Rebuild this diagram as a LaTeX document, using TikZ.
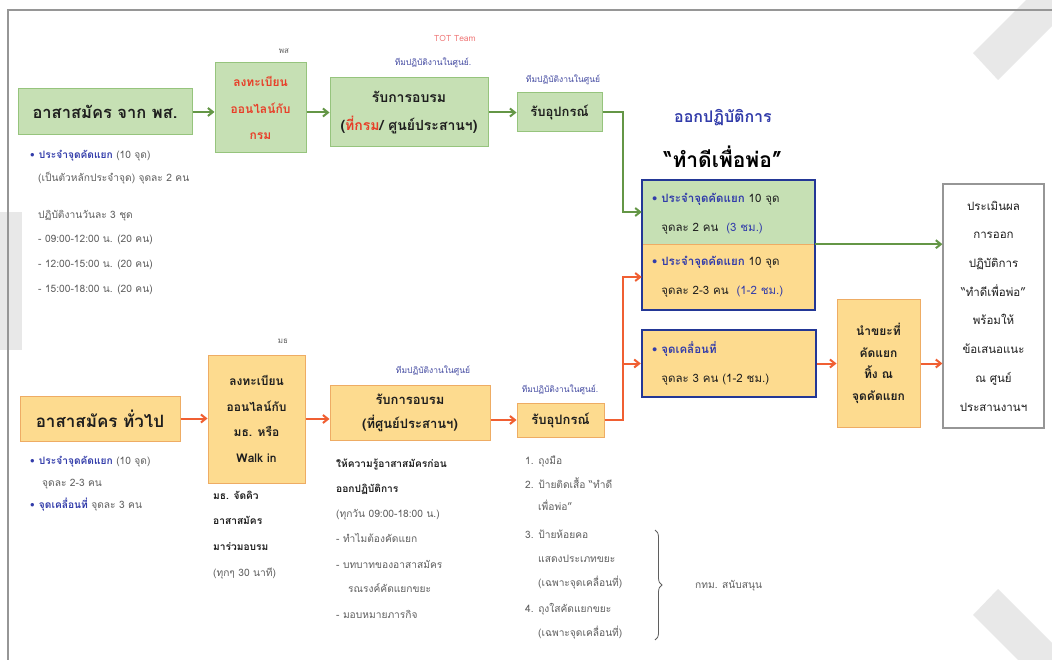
\documentclass[tikz,border=0pt]{standalone}
\usepackage{fontspec}
\setmainfont[Script=Thai]{Loma}
\usetikzlibrary{arrows.meta,decorations.pathreplacing}
\definecolor{gfill}{RGB}{198,224,180}
\definecolor{gborder}{RGB}{150,196,125}
\definecolor{yfill}{RGB}{253,219,143}
\definecolor{yborder}{RGB}{238,172,100}
\definecolor{bborder}{RGB}{35,55,150}
\definecolor{garrow}{RGB}{100,150,70}
\definecolor{oarrow}{RGB}{240,95,50}
\definecolor{tblue}{RGB}{50,60,170}
\definecolor{tgray}{RGB}{95,95,95}
\definecolor{tdark}{RGB}{30,30,30}
\definecolor{tred}{RGB}{232,62,40}
\definecolor{tpink}{RGB}{240,120,120}
\definecolor{frame}{RGB}{150,150,150}
\definecolor{stripe}{RGB}{232,232,232}
\begin{document}
\begin{tikzpicture}[x=1pt,y=-1pt,
  gbox/.style={draw=gborder,fill=gfill,line width=1pt,inner sep=0pt,align=center,text=tdark},
  ybox/.style={draw=yborder,fill=yfill,line width=1pt,inner sep=0pt,align=center,text=tdark},
  garr/.style={draw=garrow,line width=2pt,-{Straight Barb[length=5pt,width=8pt]}},
  oarr/.style={draw=oarrow,line width=2pt,-{Straight Barb[length=5pt,width=8pt]}},
  note/.style={anchor=west,inner sep=0pt,text=tgray,font=\fontsize{10.2}{12}\selectfont,text height=7pt,text depth=3pt},
  bnote/.style={note,text=tdark,font=\bfseries\fontsize{10.2}{12}\selectfont},
  lab/.style={inner sep=0pt,text=tblue!80!gray,font=\fontsize{8.5}{10}\selectfont},
  slab/.style={inner sep=0pt,text=tgray,font=\fontsize{8}{10}\selectfont},
  inbox/.style={inner sep=0pt,align=left,text=tdark,font=\fontsize{11.5}{29}\selectfont}
]
\useasboundingbox (0,0) rectangle (1052,660);
\fill[white] (0,0) rectangle (1052,660);
% page decoration
\fill[stripe] (0,212) rectangle (22,350);
\fill[stripe] (973,53) -- (1026,0) -- (1052,0) -- (1052,26) -- (998,80) -- cycle;
\fill[stripe] (998,589) -- (1052,643) -- (1052,660) -- (1018,660) -- (973,615) -- cycle;
\draw[frame,line width=1.5pt] (8,660) -- (8,10) -- (1052,10);

% top row
\node[gbox,minimum width=174pt,minimum height=46pt,font=\bfseries\fontsize{16.5}{20}\selectfont] (a1) at (105,112) {อาสาสมัคร จาก พส.};
\node[gbox,minimum width=91pt,minimum height=90pt,text=tred,font=\bfseries\fontsize{12}{26.5}\selectfont] (a2) at (260.5,108) {ลงทะเบียน\\ออนไลน์กับ\\กรม};
\node[slab] (a2l) at (284,51) {พส};
\node[gbox,minimum width=158pt,minimum height=69pt,font=\bfseries\fontsize{14}{28}\selectfont] (a3) at (409,112.5) {รับการอบรม\\(\textcolor{tred}{ที่กรม}/ ศูนย์ประสานฯ)};
\node[inner sep=0pt,text=tpink,font=\fontsize{8.5}{10}\selectfont] (tot) at (455,38) {TOT Team};
\node[lab] (a3l) at (433,63) {ทีมปฏิบัติงานในศูนย์.};
\node[gbox,minimum width=85pt,minimum height=39pt,font=\bfseries\fontsize{13}{16}\selectfont] (a4) at (559.5,112.5) {รับอุปกรณ์};
\node[lab] (a4l) at (563,80) {ทีมปฏิบัติงานในศูนย์};

\draw[garr] (a1.east) -- (a1.east -| a2.west);
\draw[garr] (a3.west -| a2.east) -- (a3.west);
\draw[garr] (a3.east) -- (a4.west);

% notes under a1
\node[note] (n1) at (30,157) {\textcolor{tblue}{•}\hspace{4pt}\textcolor{tblue}{\bfseries ประจำจุดคัดแยก} (10 จุด)};
\node[note] (n2) at (38,180) {(เป็นตัวหลักประจำจุด) จุดละ 2 คน};
\node[note] (n3) at (38,217) {ปฏิบัติงานวันละ 3 ชุด};
\node[note] (n4) at (38,241) {- 09:00-12:00 น. (20 คน)};
\node[note] (n5) at (38,266) {- 12:00-15:00 น. (20 คน)};
\node[note] (n6) at (38,291) {- 15:00-18:00 น. (20 คน)};

% title
\node[inner sep=0pt,text=tblue,font=\bfseries\fontsize{16}{18}\selectfont] (t1) at (723,118) {ออกปฏิบัติการ};
\node[inner sep=0pt,text=black,font=\bfseries\fontsize{21}{24}\selectfont] (t2) at (723,157) {“ทำดีเพื่อพ่อ”};

% operation boxes
\node[fill=gfill,minimum width=173pt,minimum height=64pt,inner sep=0pt] (b1t) at (728.5,212) {};
\node[fill=yfill,minimum width=173pt,minimum height=66pt,inner sep=0pt] (b1b) at (728.5,277) {};
\draw[yborder,line width=1pt] (b1t.south west) -- (b1t.south east);
\draw[bborder,line width=2.5pt] (b1t.north west) rectangle (b1b.south east);
\node[inbox,anchor=west] (b1tt) at (652,214) {\textcolor{tblue}{• \bfseries ประจำจุดคัดแยก} 10 จุด\\\phantom{• }จุดละ 2 คน \ \textcolor{tblue}{(3 ชม.)}};
\node[inbox,anchor=west] (b1bt) at (652,277) {\textcolor{tblue}{• \bfseries ประจำจุดคัดแยก} 10 จุด\\\phantom{• }จุดละ 2-3 คน \ \textcolor{tblue}{(1-2 ชม.)}};
\node[fill=yfill,draw=bborder,line width=2.5pt,minimum width=174pt,minimum height=67pt,inner sep=0pt] (b2) at (729,363.5) {};
\node[inbox,anchor=west] (b2t) at (652,364) {\textcolor{tblue}{• \bfseries จุดเคลื่อนที่}\\\phantom{• }จุดละ 3 คน (1-2 ชม.)};

\node[ybox,minimum width=83pt,minimum height=127pt,font=\bfseries\fontsize{12}{21.7}\selectfont] (c) at (878.5,363.5) {นำขยะที่\\คัดแยก\\ทิ้ง ณ\\จุดคัดแยก};
\node[draw=frame,fill=white,line width=1.2pt,minimum width=101pt,minimum height=244pt,inner sep=0pt,align=center,text=tdark,font=\fontsize{11.5}{28.7}\selectfont] (e) at (993.5,306) {ประเมินผล\\การออก\\ปฏิบัติการ\\“ทำดีเพื่อพ่อ”\\พร้อมให้\\ข้อเสนอแนะ\\ณ ศูนย์\\ประสานงานฯ};

\coordinate (gx) at (623,0);
\draw[garr] (a4.east) -- (a4.east -| gx) |- (b1t.west);
\draw[garr] (b1t.south east) -- (b1t.south east -| e.west);
\draw[oarr] (b2.east) -- (c.west);
\draw[oarr] (c.east) -- (c.east -| e.west);

% bottom row
\node[ybox,minimum width=160pt,minimum height=45pt,font=\bfseries\fontsize{17}{20}\selectfont] (d1) at (100,418.5) {อาสาสมัคร ทั่วไป};
\node[ybox,minimum width=97pt,minimum height=128pt,font=\bfseries\fontsize{12}{25.7}\selectfont] (d2) at (256.5,419) {ลงทะเบียน\\ออนไลน์กับ\\มธ. หรือ\\Walk in};
\node[slab] (d2l) at (283,341) {มธ};
\node[ybox,minimum width=160pt,minimum height=55pt,font=\bfseries\fontsize{13}{24}\selectfont] (d3) at (410,412.5) {รับการอบรม\\(ที่ศูนย์ประสานฯ)};
\node[lab] (d3l) at (433,371) {ทีมปฏิบัติงานในศูนย์};
\node[ybox,minimum width=87pt,minimum height=34pt,font=\bfseries\fontsize{13}{16}\selectfont] (d4) at (560.5,420) {รับอุปกรณ์};
\node[lab] (d4l) at (560,390) {ทีมปฏิบัติงานในศูนย์.};

\draw[oarr] (d1.east) -- (d1.east -| d2.west);
\draw[oarr] (d2.east) -- (d2.east -| d3.west);
\draw[oarr] (d4.west -| d3.east) -- (d4.west);
\draw[oarr] (d4.east) -| (gx |- b1b.west) -- (b1b.west);
\draw[oarr] (gx |- b2.west) -- (b2.west);

% notes under d1
\node[note] (m1) at (30,462) {\textcolor{tblue}{•}\hspace{4pt}\textcolor{tblue}{\bfseries ประจำจุดคัดแยก} (10 จุด)};
\node[note] (m2) at (42,484) {จุดละ 2-3 คน};
\node[note] (m3) at (30,506) {\textcolor{tblue}{•}\hspace{4pt}\textcolor{tblue}{\bfseries จุดเคลื่อนที่} จุดละ 3 คน};

% notes under d2
\node[bnote] (q1) at (213,497) {มธ. จัดคิว};
\node[bnote] (q2) at (213,522) {อาสาสมัคร};
\node[bnote] (q3) at (213,548) {มาร่วมอบรม};
\node[note] (q4) at (213,574) {(ทุกๆ 30 นาที)};

% notes under d3
\node[bnote] (r1) at (336,465) {ให้ความรู้อาสาสมัครก่อน};
\node[bnote] (r2) at (336,490) {ออกปฏิบัติการ};
\node[note] (r3) at (336,515) {(ทุกวัน 09:00-18:00 น.)};
\node[note] (r4) at (336,540) {- ทำไมต้องคัดแยก};
\node[note] (r5) at (336,566) {- บทบาทของอาสาสมัคร};
\node[note] (r6) at (348,590) {รณรงค์คัดแยกขยะ};
\node[note] (r7) at (336,616) {- มอบหมายภารกิจ};

% notes under d4
\node[note] (s1) at (525,462) {1. ถุงมือ};
\node[note] (s2) at (525,486) {2. ป้ายติดเสื้อ “ทำดี};
\node[note] (s3) at (538,508) {เพื่อพ่อ”};
\node[note] (s4) at (525,536) {3. ป้ายห้อยคอ};
\node[note] (s5) at (538,560) {แสดงประเภทขยะ};
\node[note] (s6) at (538,584) {(เฉพาะจุดเคลื่อนที่)};
\node[note] (s7) at (525,610) {4. ถุงใสคัดแยกขยะ};
\node[note] (s8) at (538,634) {(เฉพาะจุดเคลื่อนที่)};
\coordinate (brtop) at (655,530);
\coordinate (brbot) at (655,640);
\draw[tgray,line width=0.8pt,decorate,decoration={brace,amplitude=7pt}] (brtop) -- (brbot);
\node[note] (sup) at (695,586) {กทม. สนับสนุน};
\end{tikzpicture}
\end{document}
